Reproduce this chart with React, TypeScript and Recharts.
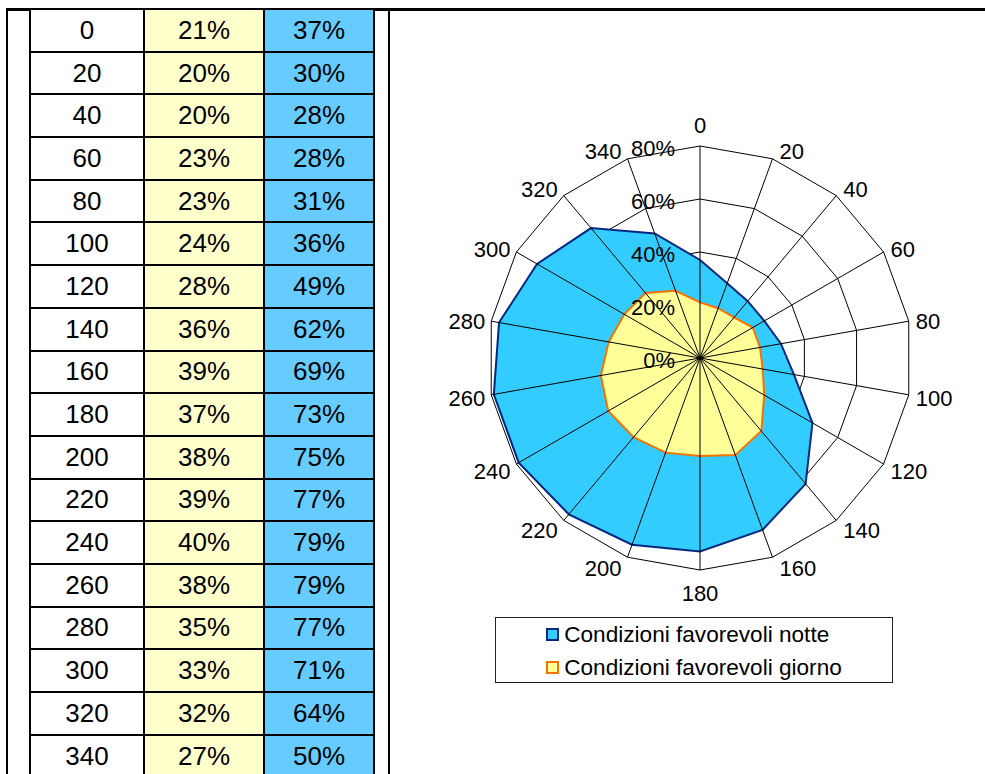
import React from "react";
import {
  RadarChart,
  Radar,
  PolarGrid,
  PolarAngleAxis,
  PolarRadiusAxis,
  Legend,
} from "recharts";

const DIRECTIONS = [0, 20, 40, 60, 80, 100, 120, 140, 160, 180, 200, 220, 240, 260, 280, 300, 320, 340];
const GIORNO = [21, 20, 20, 23, 23, 24, 28, 36, 39, 37, 38, 39, 40, 38, 35, 33, 32, 27];
const NOTTE = [37, 30, 28, 28, 31, 36, 49, 62, 69, 73, 75, 77, 79, 79, 77, 71, 64, 50];
const RADIUS_TICKS = [0, 20, 40, 60, 80];

const SERIES = [
  { key: "notte", name: "Condizioni favorevoli notte", fill: "#33CCFF", stroke: "#00287F" },
  { key: "giorno", name: "Condizioni favorevoli giorno", fill: "#FFFF99", stroke: "#F57200" },
];

const FONT = '"Liberation Sans", Arial, Helvetica, sans-serif';

// chart geometry (local to the chart box)
const CHART_LEFT = 390;
const CHART_TOP = 11;
const CX = 310;
const CY = 347;
const R = 212;

const chartData = DIRECTIONS.map((d, i) => ({
  dir: String(d),
  notte: NOTTE[i],
  giorno: GIORNO[i],
}));

function AngleTick(props: any) {
  const deg = Number(props.payload.value);
  const rad = (deg * Math.PI) / 180;
  const s = Math.sin(rad);
  const c = Math.cos(rad);
  const px = CX + R * s;
  const py = CY - R * c;
  let x = px;
  let y = py;
  let anchor = "middle";
  if (Math.abs(s) < 0.01) {
    y = py - c * 22 + 1;
  } else {
    anchor = s > 0 ? "start" : "end";
    x = px + (s > 0 ? 7 : -6);
    y = py - c * 10 + 2;
  }
  return (
    <text x={x} y={y} textAnchor={anchor} dominantBaseline="central" fontSize={22} fontFamily={FONT} fill="#000">
      {props.payload.value}
    </text>
  );
}

function RadiusTick(props: any) {
  return (
    <text x={props.x - 25} y={props.y + 2} textAnchor="end" dominantBaseline="central" fontSize={22} fontFamily={FONT} fill="#000">
      {props.payload.value}%
    </text>
  );
}

function LegendBox() {
  return (
    <div
      style={{
        width: 396,
        height: 64,
        border: "1px solid #222",
        background: "#fff",
        display: "flex",
        justifyContent: "center",
        fontFamily: FONT,
        fontSize: 22.6,
      }}
    >
      <div>
        {SERIES.map((s) => (
          <div key={s.key} style={{ display: "flex", alignItems: "center", height: 33, whiteSpace: "nowrap" }}>
            <span
              style={{
                display: "inline-block",
                width: 9,
                height: 9,
                background: s.fill,
                border: `2px solid ${s.stroke}`,
                marginRight: 5,
              }}
            />
            {s.name}
          </div>
        ))}
      </div>
    </div>
  );
}

export default function App() {
  return (
    <div
      style={{
        position: "absolute",
        left: 0,
        top: 0,
        width: 985,
        height: 774,
        overflow: "hidden",
        background: "#fff",
        fontFamily: FONT,
      }}
    >
      {/* page frame lines */}
      <div style={{ position: "absolute", left: 6, top: 8, width: 979, height: 3, background: "#000" }} />
      <div style={{ position: "absolute", left: 6, top: 8, width: 2, height: 766, background: "#000" }} />
      <div style={{ position: "absolute", left: 388, top: 8, width: 2, height: 766, background: "#000" }} />

      {/* data table */}
      <div
        style={{
          position: "absolute",
          left: 29,
          top: 8,
          display: "grid",
          gridTemplateColumns: "112px 118px 108px",
          gridAutoRows: "40.7px",
          gap: 2,
          padding: 2,
          background: "#000",
          fontSize: 26,
        }}
      >
        {DIRECTIONS.map((d, i) => (
          <React.Fragment key={d}>
            <div style={{ background: "#fff", display: "flex", alignItems: "center", justifyContent: "center" }}>{d}</div>
            <div style={{ background: "#FFFFCC", display: "flex", alignItems: "center", justifyContent: "center" }}>{GIORNO[i]}%</div>
            <div style={{ background: "#66CCFF", display: "flex", alignItems: "center", justifyContent: "center" }}>{NOTTE[i]}%</div>
          </React.Fragment>
        ))}
      </div>

      {/* radar chart */}
      <div style={{ position: "absolute", left: CHART_LEFT, top: CHART_TOP, width: 595, height: 700 }}>
        <RadarChart
          width={595}
          height={700}
          data={chartData}
          cx={CX}
          cy={CY}
          outerRadius={R}
          startAngle={90}
          endAngle={-270}
          margin={{ top: 0, right: 0, bottom: 0, left: 0 }}
        >
          <PolarGrid gridType="polygon" radialLines={false} stroke="#000" strokeOpacity={1} />
          <PolarAngleAxis dataKey="dir" tick={AngleTick} tickLine={false} axisLine={false} />
          <PolarRadiusAxis
            angle={90}
            domain={[0, 80]}
            ticks={RADIUS_TICKS}
            tickCount={5}
            axisLine={false}
            tickLine={false}
            tick={RadiusTick}
          />
          {SERIES.map((s) => (
            <Radar
              key={s.key}
              name={s.name}
              dataKey={s.key}
              stroke={s.stroke}
              strokeWidth={2}
              fill={s.fill}
              fillOpacity={1}
              dot={false}
              isAnimationActive={false}
            />
          ))}
          <PolarGrid gridType="polygon" polarRadius={[]} radialLines stroke="#000" strokeOpacity={1} zIndex={600} />
          <Legend
            layout="vertical"
            align="center"
            verticalAlign="middle"
            content={LegendBox}
            wrapperStyle={{ left: 495 - CHART_LEFT, top: 617 - CHART_TOP, width: 398, height: 66 }}
          />
        </RadarChart>
      </div>
    </div>
  );
}
